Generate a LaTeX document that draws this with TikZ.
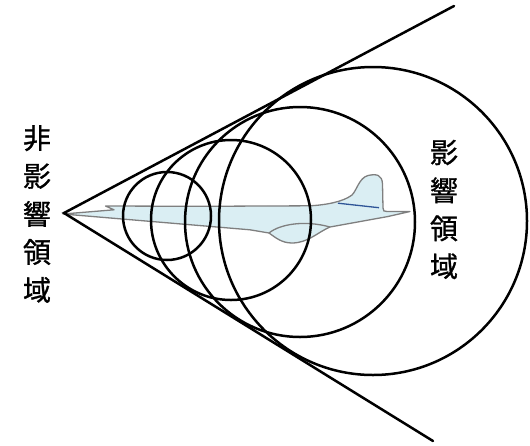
\documentclass[tikz,border=0pt]{standalone}
\usepackage{fontspec}
\newfontfamily\jpfont[FakeBold=1]{Noto Sans CJK JP}
\definecolor{planefill}{HTML}{DAEEF3}
\definecolor{planeedge}{HTML}{7F7F7F}
\definecolor{finline}{HTML}{2F5597}
\begin{document}
\begin{tikzpicture}[x=1pt,y=-1pt,
  cone/.style={line width=2.5pt,line cap=round},
  wave/.style={circle,draw,line width=2.5pt,inner sep=0pt},
  label/.style={font=\jpfont\fontsize{28}{38}\selectfont,align=center,inner sep=0pt}]
\useasboundingbox (0,0) rectangle (530,445);

% aircraft silhouette
\path[fill=planefill,draw=planeedge,line width=1.3pt,line join=round]
  (63,214) -- (114,209.8) -- (105.5,206) -- (200,206.3) -- (310,205.8)
  .. controls (325,205) and (343,202) .. (352,195)
  .. controls (357,190) and (359,178) .. (368,175.5)
  .. controls (377,173.5) and (382,175) .. (382.5,184)
  -- (383,208) .. controls (383,211) and (384,211.5) .. (387,211.5)
  -- (410,211.5) -- (388,216.5) -- (330,227)
  .. controls (318,232) and (308,243) .. (292,243)
  .. controls (282,243) and (276,238) .. (269,233)
  -- (250,229.8) -- cycle;
% wing line
\draw[planeedge,line width=1.3pt] (269,233) .. controls (280,224) and (305,220) .. (330,227);
% fin root line
\draw[finline,line width=1.3pt] (338,203.2) -- (379,207.7);

% Mach cone
\coordinate (apex) at (64,213);
\coordinate (upper) at (454,6);
\coordinate (lower) at (433,441);
\draw[cone] (upper) -- (apex) -- (lower);

% pressure waves
\node[wave,minimum size=88pt]  (w1) at (167,216) {};
\node[wave,minimum size=160pt] (w2) at (231,220) {};
\node[wave,minimum size=230pt] (w3) at (300,222) {};
\node[wave,minimum size=308pt] (w4) at (373,221) {};

% region labels
\node[label] (outside) at (37,214) {非\\影\\響\\領\\域};
\node[label] (inside) at (444,209.5) {影\\響\\領\\域};
\end{tikzpicture}
\end{document}
